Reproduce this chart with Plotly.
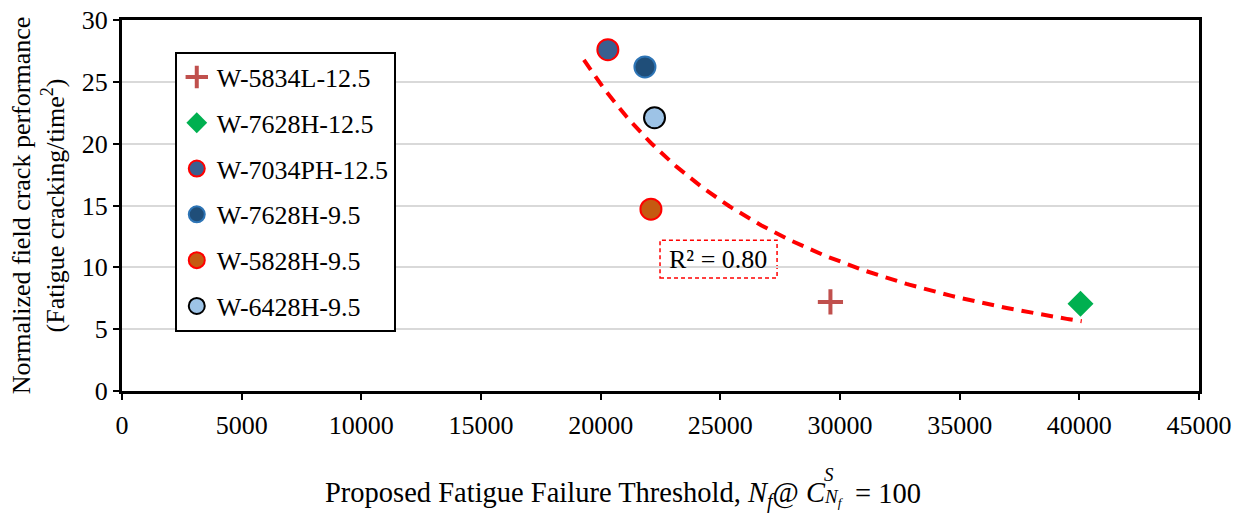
import numpy as np
import plotly.graph_objects as go

# ---- data ----
names = ["W-5834L-12.5", "W-7628H-12.5", "W-7034PH-12.5", "W-7628H-9.5", "W-5828H-9.5", "W-6428H-9.5"]
x_vals = [29600, 40050, 20300, 21850, 22100, 22250]
y_vals = [7.2, 7.05, 27.6, 26.2, 14.7, 22.1]

symbols = ["cross-thin", "diamond", "circle", "circle", "circle", "circle"]
fills = ["#C0504D", "#00B050", "#3A5F8F", "#1F4E79", "#C55A11", "#9DC3E6"]
edges = ["#C0504D", "#00B050", "#FF0000", "#2E75B6", "#FF0000", "#000000"]
edge_w = [4, 0, 2, 2, 2, 2]
sizes = [18, 20, 21, 21, 21, 21]

x_ticks = [0, 5000, 10000, 15000, 20000, 25000, 30000, 35000, 40000, 45000]
y_ticks = [0, 5, 10, 15, 20, 25, 30]

trend_x_range = [19300, 40100]

FONT = "Liberation Serif, Times New Roman, serif"

fig = go.Figure()

for i, n in enumerate(names):
    fig.add_trace(go.Scatter(
        x=[x_vals[i]], y=[y_vals[i]], mode="markers", name=n,
        legendgroup=n,
        marker=dict(symbol=symbols[i], size=sizes[i], color=fills[i],
                    line=dict(color=edges[i], width=edge_w[i])),
    ))

# power trendline fitted from data (least squares in log space, like Excel)
lx = np.log(np.array(x_vals, dtype=float))
ly = np.log(np.array(y_vals, dtype=float))
b, lna = np.polyfit(lx, ly, 1)
a = np.exp(lna)
pred = lna + b * lx
r2 = 1 - np.sum((ly - pred) ** 2) / np.sum((ly - ly.mean()) ** 2)
tx = np.linspace(trend_x_range[0], trend_x_range[1], 200)
ty = a * tx ** b
fig.add_trace(go.Scatter(x=tx, y=ty, mode="lines", showlegend=False,
                         line=dict(color="#FF0000", width=4, dash="12px,8px"),
                         hoverinfo="skip"))

# R^2 label with dashed box
fig.add_shape(type="rect", x0=22480, x1=27370, y0=9.14, y1=12.2,
              line=dict(color="#FF0000", width=1.5, dash="4px,3px"), fillcolor="white", layer="below")
fig.add_annotation(x=24900, y=10.6, text=f"R² = {r2:.2f}", showarrow=False,
                   font=dict(family=FONT, size=26, color="black"))

# x-axis title, built in pieces so that C has a stacked super/subscript
TF = dict(family=FONT, size=28.5, color="black")
SF = dict(family=FONT, size=19, color="black")
fig.add_annotation(xref="paper", yref="paper", x=0.655, y=-0.280, xanchor="right", yanchor="middle",
                   text="Proposed Fatigue Failure Threshold, <i>N</i><sub><i>f</i></sub>@ <i>C</i>",
                   showarrow=False, font=TF, borderpad=0)
fig.add_annotation(xref="paper", yref="paper", x=0.6505, y=-0.226, xanchor="left", yanchor="middle",
                   text="<i>S</i>", showarrow=False, font=SF, borderpad=0)
fig.add_annotation(xref="paper", yref="paper", x=0.6505, y=-0.289, xanchor="left", yanchor="middle",
                   text="<i>N<sub>f</sub></i>", showarrow=False, font=SF, borderpad=0)
fig.add_annotation(xref="paper", yref="paper", x=0.680, y=-0.275, xanchor="left", yanchor="middle",
                   text="= 100", showarrow=False, font=TF, borderpad=0)

fig.update_layout(
    width=1244, height=514,
    margin=dict(l=122, r=45, t=20, b=123),
    paper_bgcolor="white", plot_bgcolor="white",
    font=dict(family=FONT, size=26, color="black"),
    showlegend=True,
    legend=dict(x=0.049, y=0.915, xanchor="left", yanchor="top",
                bordercolor="black", borderwidth=2, bgcolor="white",
                font=dict(family=FONT, size=26, color="black"),
                traceorder="grouped", tracegroupgap=9, itemwidth=30),
    xaxis=dict(range=[0, 45000], tickvals=x_ticks, ticktext=[str(v) for v in x_ticks],
               showgrid=False, zeroline=False, automargin=False,
               showline=True, linecolor="black", linewidth=3, mirror=True,
               ticks="outside", ticklen=6, tickwidth=2, tickcolor="black",
               tickfont=dict(family=FONT, size=26), ticklabelstandoff=3),
    yaxis=dict(range=[0, 30], tickvals=y_ticks, showgrid=True, gridcolor="#D9D9D9", gridwidth=1.5,
               zeroline=False, automargin=False,
               showline=True, linecolor="black", linewidth=3, mirror=True,
               ticks="outside", ticklen=6, tickwidth=2, tickcolor="black",
               tickfont=dict(family=FONT, size=26),
               title=dict(text="Normalized field crack performance<br>(Fatigue cracking/time<sup>2</sup>)",
                          font=dict(family=FONT, size=26), standoff=10)),
)

fig.write_html("out.html")
